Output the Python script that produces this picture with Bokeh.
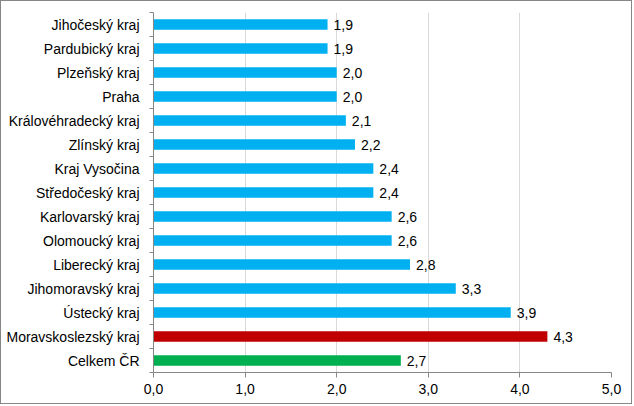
from bokeh.plotting import figure
from bokeh.models import Range1d, FixedTicker, ColumnDataSource, CustomJSTickFormatter
from bokeh.core.properties import value
from bokeh.embed import file_html
from bokeh.resources import INLINE

categories = ["Jihočeský kraj", "Pardubický kraj", "Plzeňský kraj", "Praha",
              "Královéhradecký kraj", "Zlínský kraj", "Kraj Vysočina", "Středočeský kraj",
              "Karlovarský kraj", "Olomoucký kraj", "Liberecký kraj", "Jihomoravský kraj",
              "Ústecký kraj", "Moravskoslezský kraj", "Celkem ČR"]
values = [1.9, 1.9, 2.0, 2.0, 2.1, 2.2, 2.4, 2.4, 2.6, 2.6, 2.8, 3.3, 3.9, 4.3, 2.7]
colors = ["#00B0F0"] * 13 + ["#C00000", "#00B050"]
x_ticks = [0, 1, 2, 3, 4, 5]

n = len(categories)
ypos = [n - i - 0.5 for i in range(n)]
labels = [f"{v:.1f}".replace(".", ",") for v in values]

src = ColumnDataSource(dict(y=ypos, v=values, c=colors, t=labels))

FONT = "Liberation Sans"
FS = "14px"

p = figure(width=632, height=404, output_backend="svg", toolbar_location=None,
           x_range=Range1d(0, 5), y_range=Range1d(0, n),
           min_border_left=152, min_border_right=22, min_border_top=11, min_border_bottom=33)
p.styles = {"border": "1px solid #868686"}
p.outline_line_color = None

p.hbar(y="y", left=0, right="v", height=0.43, fill_color="c", line_color=None, source=src)
p.text(x="v", y="y", text="t", x_offset=6, text_baseline="middle", text_align="left",
       text_font=value(FONT), text_font_size=FS, text_color="#000000", source=src)

# x axis
p.xaxis.ticker = FixedTicker(ticks=x_ticks)
p.xaxis.formatter = CustomJSTickFormatter(code="return tick.toFixed(1).replace('.', ',');")
p.xaxis.axis_line_color = "#868686"
p.xaxis.major_tick_line_color = "#868686"
p.xaxis.major_tick_out = 5
p.xaxis.major_tick_in = 0
p.xaxis.minor_tick_line_color = None
p.xaxis.major_label_standoff = 6
p.xaxis.major_label_text_font = FONT
p.xaxis.major_label_text_font_size = FS
p.xaxis.major_label_text_color = "#000000"

# y axis
p.yaxis.ticker = FixedTicker(ticks=ypos, minor_ticks=list(range(n + 1)))
p.yaxis.major_label_overrides = {y: c for y, c in zip(ypos, categories)}
p.yaxis.axis_line_color = "#868686"
p.yaxis.major_tick_line_color = None
p.yaxis.major_tick_out = 0
p.yaxis.major_tick_in = 0
p.yaxis.minor_tick_line_color = "#868686"
p.yaxis.minor_tick_out = 4
p.yaxis.minor_tick_in = 0
p.yaxis.major_label_standoff = 10
p.yaxis.major_label_text_font = FONT
p.yaxis.major_label_text_font_size = FS
p.yaxis.major_label_text_color = "#000000"

p.xgrid.ticker = FixedTicker(ticks=x_ticks[1:])
p.xgrid.grid_line_color = "#D9D9D9"
p.ygrid.grid_line_color = None

open("out.html", "w").write(file_html(p, INLINE))
